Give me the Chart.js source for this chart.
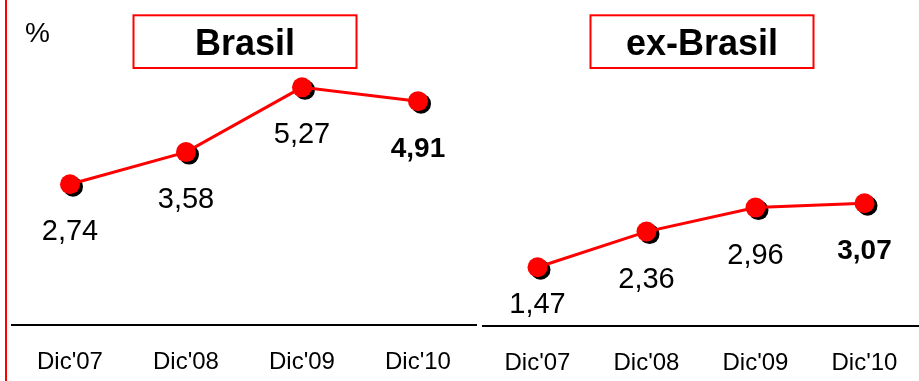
<!DOCTYPE html>
<html>
<head>
<meta charset="utf-8">
<script src="https://cdn.jsdelivr.net/npm/chart.js@4/dist/chart.umd.min.js"></script>
<style>
  html, body { margin: 0; padding: 0; background: #fff; overflow: hidden; }
  #wrap { position: relative; width: 919px; height: 381px; }
  canvas { position: absolute; top: 0; }
  #cBr { left: 0; }
  #cEx { left: 480px; }
</style>
</head>
<body>
<div id="wrap">
  <canvas id="cBr" width="480" height="381"></canvas>
  <canvas id="cEx" width="439" height="381"></canvas>
</div>
<script>
// Year-end periods and the rate for each market, in %
const periods = ["Dic'07", "Dic'08", "Dic'09", "Dic'10"];
const brasilValues = [2.74, 3.58, 5.27, 4.91];
const exBrasilValues = [1.47, 2.36, 2.96, 3.07];
const panelTitles = ['Brasil', 'ex-Brasil'];
const unitLabel = '%';

const FONT = "'Liberation Sans', Arial, Helvetica, sans-serif";
const RED = '#ff0000';

function fmt(v) { return v.toFixed(2).replace('.', ','); }

// Drop shadows under the markers, value labels, framed panel title,
// unit label and the red rule along the left edge.
const panelDecor = {
  id: 'panelDecor',
  beforeDatasetDraw(chart, args) {
    const ctx = chart.ctx;
    ctx.save();
    ctx.fillStyle = '#000';
    args.meta.data.forEach(pt => {
      ctx.beginPath();
      ctx.arc(pt.x + 3, pt.y + 2.5, 10, 0, Math.PI * 2);
      ctx.fill();
    });
    ctx.restore();
  },
  afterDatasetsDraw(chart, args, opts) {
    const ctx = chart.ctx, area = chart.chartArea;
    const meta = chart.getDatasetMeta(0);
    const values = chart.data.datasets[0].data;
    ctx.save();
    ctx.fillStyle = '#000';
    ctx.textAlign = 'center';
    ctx.textBaseline = 'alphabetic';
    meta.data.forEach((pt, i) => {
      const latest = i === values.length - 1;
      ctx.font = latest ? 'bold 28px ' + FONT : '29px ' + FONT;
      const y = Math.min(pt.y + 56, area.bottom - 13);
      ctx.fillText(fmt(values[i]), pt.x, y);
    });

    const cx = (area.left + area.right) / 2 + 1;
    ctx.strokeStyle = RED;
    ctx.lineWidth = 2;
    ctx.strokeRect(cx - 111.5, 15.3, 223, 52.7);
    ctx.font = 'bold 36px ' + FONT;
    ctx.fillText(opts.title, cx, 55);

    if (opts.unit) {
      ctx.textAlign = 'left';
      ctx.font = '28px ' + FONT;
      ctx.fillText(opts.unit, 25, 42);
    }
    if (opts.leftRule) {
      ctx.strokeStyle = RED;
      ctx.lineWidth = 2;
      ctx.beginPath();
      ctx.moveTo(6, 0);
      ctx.lineTo(6, chart.height);
      ctx.stroke();
    }
    ctx.restore();
  }
};

function makePanel(canvasId, values, title, cfg) {
  return new Chart(document.getElementById(canvasId), {
    type: 'line',
    data: {
      labels: periods,
      datasets: [{
        data: values,
        borderColor: RED,
        borderWidth: 3,
        backgroundColor: RED,
        pointBackgroundColor: RED,
        pointBorderWidth: 0,
        pointRadius: 10,
        tension: 0,
        fill: false
      }]
    },
    options: {
      responsive: false,
      animation: false,
      events: [],
      layout: { autoPadding: false, padding: cfg.padding },
      plugins: {
        legend: { display: false },
        title: { display: false },
        tooltip: { enabled: false },
        panelDecor: { title: title, unit: cfg.unit, leftRule: cfg.leftRule }
      },
      scales: {
        x: {
          type: 'category',
          offset: true,
          grid: { display: false },
          border: { display: true, color: '#000', width: 2 },
          ticks: {
            color: '#000',
            padding: 15,
            font: { family: FONT, size: 24 }
          },
          afterFit(axis) { axis.height = cfg.axisHeight; }
        },
        y: {
          display: false,
          min: cfg.min,
          max: cfg.max
        }
      }
    },
    plugins: [panelDecor]
  });
}

makePanel('cBr', brasilValues, panelTitles[0], {
  padding: { left: 12, right: 4, top: 0, bottom: 0 },
  axisHeight: 56.5,
  min: -0.92, max: 7.55,
  unit: unitLabel,
  leftRule: true
});

makePanel('cEx', exBrasilValues, panelTitles[1], {
  padding: { left: 3, right: 0, top: 0, bottom: 0 },
  axisHeight: 55,
  min: 0, max: 8.15,
  unit: null,
  leftRule: false
});
</script>
</body>
</html>
